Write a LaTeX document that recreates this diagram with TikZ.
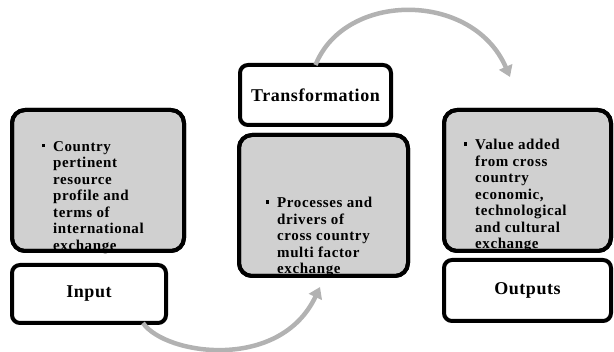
\documentclass[tikz,border=0pt]{standalone}
\usepackage{fontspec}
\setmainfont{Liberation Serif}
\usetikzlibrary{arrows.meta, positioning}

\definecolor{boxgrey}{RGB}{208,208,208}
\definecolor{arrowgrey}{RGB}{178,178,178}

\newcommand{\sqbul}{\llap{\rule[4pt]{3.5pt}{3.5pt}\hspace{8pt}}}

\tikzset{
  box/.style={draw=black, line width=4pt, outer sep=0pt, inner sep=0pt},
  greybox/.style={box, fill=boxgrey, rounded corners=13pt},
  whitebox/.style={box, fill=white, rounded corners=8pt},
  title/.style={font=\bfseries\fontsize{18}{20}\selectfont\addfontfeature{LetterSpace=3}},
  bulltext/.style={align=left, inner sep=0pt, anchor=north west,
    font=\bfseries\fontsize{15}{16.5}\selectfont\addfontfeature{LetterSpace=4}},
  flow/.style={draw=arrowgrey, line width=4.5pt, -{Triangle[length=11pt,width=14pt]}}
}

\begin{document}
\begin{tikzpicture}[x=1pt, y=-1pt]
\useasboundingbox (0,0) rectangle (614,352);

% grey boxes
\node[greybox, minimum width=172pt, minimum height=141pt] (lbox) at (98,180.5) {};
\node[greybox, minimum width=169pt, minimum height=141pt] (mbox) at (323.5,205.5) {};
\node[greybox, minimum width=167pt, minimum height=141pt] (rbox) at (527.5,180.5) {};

% title boxes
\node[whitebox, title, minimum width=154pt, minimum height=58pt,
  below right=14pt and 0pt of lbox.south west] (inbox) {Input};
\node[whitebox, title, minimum width=151pt, minimum height=60pt,
  above right=10pt and 1pt of mbox.north west] (trbox) {Transformation};
\node[whitebox, title, minimum width=167pt, minimum height=61pt,
  below right=9pt and 0pt of rbox.south west] (outbox) {Outputs};

% bullet texts
\node[bulltext] (ltext) at (53,141) {\sqbul Country\\ pertinent\\ resource\\ profile and\\
  terms of\\ international\\ exchange};
\node[bulltext] (mtext) at (277,197) {\sqbul Processes and\\ drivers of\\ cross country\\
  multi factor\\ exchange};
\node[bulltext] (rtext) at (475,139) {\sqbul Value added\\ from cross\\ country\\ economic,\\
  technological\\ and cultural\\ exchange};

% borders again over the texts
\foreach \b in {lbox,mbox,rbox}
  \draw[box, rounded corners=13pt] (\b.south west) rectangle (\b.north east);

% arrows
\coordinate (botend) at (320,287);
\coordinate (topend) at (510,77);
\draw[flow] ([xshift=54pt]inbox.south) .. controls (165,355) and (280,372) .. (botend);
\draw[flow] (trbox.north) .. controls (345,-9) and (473,-9) .. (topend);

\end{tikzpicture}
\end{document}
